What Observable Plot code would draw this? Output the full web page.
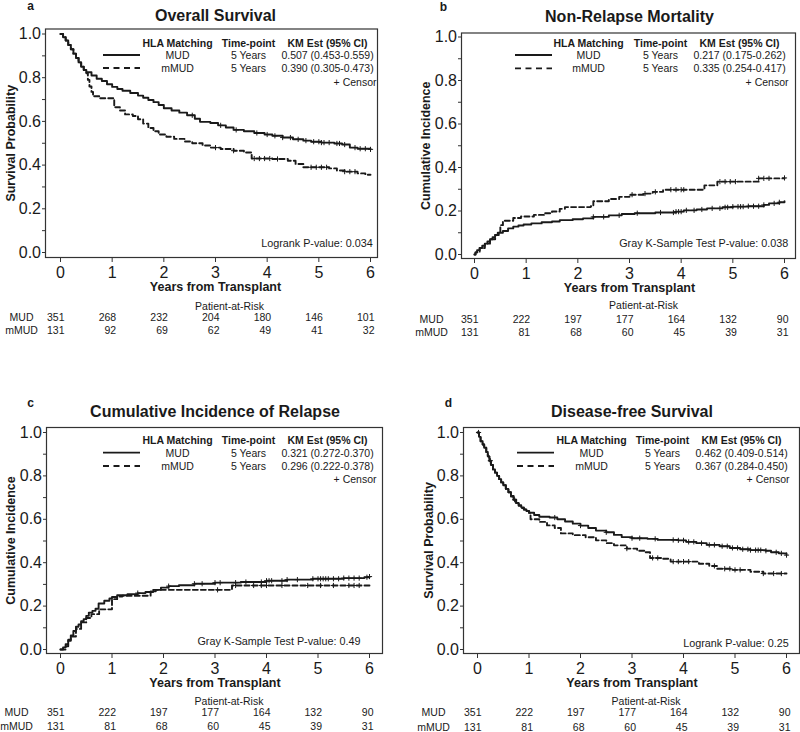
<!DOCTYPE html>
<html>
<head>
<meta charset="utf-8">
<script src="https://cdn.jsdelivr.net/npm/d3@7"></script>
<script src="https://cdn.jsdelivr.net/npm/@observablehq/plot@0.6"></script>
<style>
html, body { margin: 0; padding: 0; background: #fff; }
#chart { position: relative; width: 800px; height: 732px; overflow: hidden; background: #fff; }
#chart svg { position: absolute; }
</style>
</head>
<body>
<div id="chart"></div>
<script>
// ---------- axes ----------
const xDomain = [0, 6];
const yDomain = [0, 1];
const xTicks = [0, 1, 2, 3, 4, 5, 6];
const yMajorTicks = [0, 0.2, 0.4, 0.6, 0.8, 1.0];
const yMinorTicks = [0.1, 0.3, 0.5, 0.7, 0.9];
const riskTimes = [0, 1, 2, 3, 4, 5, 6];
const groups = ["MUD", "mMUD"];
const legendHeaders = ["HLA Matching", "Time-point", "KM Est (95% CI)"];
const timePoint = "5 Years";

// ---------- a: Overall Survival ----------
const osMUD = [[0,1.0],[0.05,0.985],[0.1,0.97],[0.15,0.95],[0.2,0.93],[0.25,0.91],[0.3,0.89],[0.35,0.87],[0.4,0.85],[0.45,0.835],[0.5,0.825],[0.6,0.81],[0.7,0.795],[0.8,0.785],[0.9,0.77],[1.0,0.758],[1.1,0.748],[1.2,0.74],[1.35,0.73],[1.5,0.718],[1.6,0.708],[1.7,0.698],[1.8,0.688],[1.9,0.675],[2.0,0.66],[2.15,0.65],[2.3,0.64],[2.45,0.628],[2.6,0.612],[2.7,0.598],[2.9,0.593],[3.05,0.582],[3.2,0.572],[3.35,0.561],[3.55,0.555],[3.75,0.547],[3.95,0.54],[4.1,0.534],[4.3,0.526],[4.5,0.518],[4.7,0.512],[4.85,0.507],[5.05,0.503],[5.3,0.499],[5.45,0.494],[5.6,0.48],[5.75,0.475],[6.0,0.472]];
const osmMUD = [[0,1.0],[0.05,0.985],[0.1,0.97],[0.15,0.95],[0.2,0.93],[0.25,0.91],[0.3,0.89],[0.35,0.87],[0.4,0.85],[0.45,0.835],[0.5,0.82],[0.53,0.79],[0.56,0.76],[0.6,0.735],[0.63,0.715],[0.75,0.706],[1.04,0.665],[1.15,0.65],[1.25,0.632],[1.4,0.625],[1.5,0.61],[1.6,0.59],[1.7,0.57],[1.8,0.555],[1.9,0.54],[2.05,0.53],[2.2,0.52],[2.4,0.508],[2.55,0.5],[2.75,0.49],[2.9,0.48],[3.1,0.474],[3.35,0.466],[3.55,0.458],[3.7,0.43],[4.1,0.428],[4.4,0.42],[4.55,0.405],[4.7,0.39],[5.2,0.385],[5.35,0.375],[5.5,0.37],[5.75,0.362],[5.9,0.356],[6.0,0.356]];
const osCensorMUD = [2.55,3.1,3.4,3.8,4.0,4.15,4.3,4.45,4.6,4.75,4.9,5.0,5.05,5.1,5.2,5.35,5.4,5.5,5.7,5.8,5.9,6.0];
const osCensormMUD = [3.0,3.35,3.75,3.85,3.95,4.05,4.2,4.85,4.95,5.05,5.15,5.5,5.6,5.7];
const osRiskMUD = [351,268,232,204,180,146,101];
const osRiskmMUD = [131,92,69,62,49,41,32];
const osEst = ["0.507 (0.453-0.559)", "0.390 (0.305-0.473)"];

// ---------- b: Non-Relapse Mortality ----------
const nrmMUD = [[0,0],[0.02,0.01],[0.05,0.02],[0.1,0.03],[0.15,0.04],[0.2,0.05],[0.25,0.06],[0.3,0.07],[0.35,0.08],[0.4,0.09],[0.45,0.1],[0.55,0.108],[0.65,0.12],[0.75,0.128],[0.85,0.133],[0.95,0.138],[1.1,0.143],[1.3,0.148],[1.5,0.152],[1.65,0.158],[1.9,0.162],[2.1,0.166],[2.3,0.173],[2.6,0.18],[2.85,0.186],[3.1,0.19],[3.5,0.193],[3.9,0.197],[4.05,0.203],[4.3,0.207],[4.5,0.212],[4.8,0.217],[5.0,0.22],[5.3,0.222],[5.6,0.228],[5.7,0.235],[5.9,0.24],[6.0,0.245]];
const nrmmMUD = [[0,0],[0.02,0.01],[0.1,0.03],[0.2,0.05],[0.3,0.07],[0.4,0.09],[0.47,0.103],[0.5,0.135],[0.55,0.155],[0.75,0.168],[0.9,0.175],[1.15,0.182],[1.35,0.19],[1.5,0.198],[1.65,0.21],[1.75,0.218],[2.25,0.222],[2.3,0.245],[2.6,0.255],[2.8,0.265],[3.0,0.275],[3.3,0.28],[3.45,0.288],[3.65,0.298],[4.45,0.318],[4.7,0.335],[5.5,0.35],[6.0,0.352]];
const nrmCensorMUD = [2.3,2.5,2.8,3.15,3.6,3.85,3.9,3.95,4.0,4.1,4.25,4.4,4.6,4.75,4.85,4.9,5.0,5.1,5.15,5.2,5.3,5.4,5.5,5.6,5.8,5.9];
const nrmCensormMUD = [3.05,3.3,3.5,3.8,3.9,4.0,4.05,4.75,4.85,4.95,5.05,5.5,5.6,5.7,6.0];
const nrmRiskMUD = [351,222,197,177,164,132,90];
const nrmRiskmMUD = [131,81,68,60,45,39,31];
const nrmEst = ["0.217 (0.175-0.262)", "0.335 (0.254-0.417)"];

// ---------- c: Cumulative Incidence of Relapse ----------
const cirMUD = [[0,0],[0.05,0.01],[0.1,0.025],[0.15,0.045],[0.2,0.065],[0.25,0.085],[0.3,0.105],[0.35,0.115],[0.4,0.13],[0.45,0.14],[0.5,0.155],[0.55,0.17],[0.62,0.178],[0.68,0.188],[0.74,0.212],[0.85,0.225],[0.95,0.235],[1.0,0.242],[1.1,0.25],[1.3,0.255],[1.5,0.26],[1.65,0.265],[1.8,0.275],[1.95,0.285],[2.1,0.292],[2.3,0.296],[2.6,0.303],[3.0,0.308],[3.5,0.311],[4.0,0.317],[4.4,0.322],[4.9,0.326],[5.5,0.329],[5.9,0.333],[6.0,0.336]];
const cirmMUD = [[0,0],[0.1,0.015],[0.15,0.04],[0.2,0.06],[0.3,0.095],[0.4,0.125],[0.5,0.145],[0.6,0.163],[0.75,0.185],[1.0,0.232],[1.1,0.244],[1.2,0.248],[1.75,0.268],[1.85,0.275],[3.33,0.295],[6.0,0.298]];
const cirCensorMUD = [1.5,2.1,2.6,2.75,3.0,3.1,3.4,3.6,3.9,4.0,4.05,4.1,4.3,4.4,4.6,4.9,5.0,5.05,5.1,5.15,5.2,5.3,5.4,5.5,5.6,5.7,5.8,5.95,6.0];
const cirCensormMUD = [3.05,3.4,3.75,3.9,4.0,4.3,4.8,5.05,5.3,5.6,5.7,5.8];
const cirRiskMUD = [351,222,197,177,164,132,90];
const cirRiskmMUD = [131,81,68,60,45,39,31];
const cirEst = ["0.321 (0.272-0.370)", "0.296 (0.222-0.378)"];

// ---------- d: Disease-free Survival ----------
const dfsMUD = [[0,1],[0.03,0.98],[0.06,0.96],[0.1,0.945],[0.13,0.93],[0.17,0.91],[0.2,0.89],[0.23,0.87],[0.26,0.85],[0.3,0.83],[0.34,0.815],[0.38,0.8],[0.42,0.785],[0.46,0.77],[0.5,0.757],[0.55,0.74],[0.6,0.725],[0.65,0.708],[0.7,0.69],[0.75,0.675],[0.8,0.665],[0.85,0.655],[0.9,0.645],[0.95,0.638],[1.0,0.63],[1.1,0.62],[1.2,0.612],[1.4,0.608],[1.55,0.6],[1.7,0.59],[1.85,0.58],[2.0,0.571],[2.15,0.56],[2.3,0.548],[2.5,0.54],[2.65,0.528],[2.8,0.518],[3.0,0.513],[3.3,0.51],[3.5,0.505],[3.9,0.503],[4.05,0.496],[4.25,0.49],[4.45,0.482],[4.7,0.476],[4.9,0.468],[5.1,0.462],[5.3,0.458],[5.6,0.455],[5.7,0.448],[5.85,0.443],[6.0,0.435]];
const dfsmMUD = [[0,1],[0.03,0.98],[0.06,0.96],[0.1,0.945],[0.13,0.93],[0.17,0.91],[0.2,0.89],[0.23,0.87],[0.26,0.85],[0.3,0.83],[0.34,0.815],[0.38,0.8],[0.42,0.785],[0.46,0.77],[0.5,0.757],[0.55,0.74],[0.6,0.725],[0.65,0.705],[0.7,0.69],[0.75,0.672],[0.8,0.662],[0.85,0.652],[0.9,0.645],[0.95,0.638],[1.0,0.63],[1.03,0.6],[1.2,0.588],[1.35,0.572],[1.5,0.56],[1.62,0.535],[1.85,0.527],[2.1,0.517],[2.3,0.503],[2.5,0.49],[2.65,0.48],[2.9,0.465],[3.1,0.455],[3.25,0.448],[3.35,0.422],[3.6,0.418],[3.75,0.405],[4.3,0.395],[4.5,0.385],[4.65,0.372],[4.95,0.367],[5.3,0.358],[5.55,0.35],[6.0,0.35]];
const dfsCensorMUD = [0.02,0.25,0.72,1.5,2.0,2.5,3.0,3.15,3.45,3.8,3.9,4.0,4.1,4.2,4.35,4.5,4.6,4.75,4.85,4.95,5.05,5.15,5.25,5.3,5.4,5.45,5.5,5.6,5.8,5.9,6.0];
const dfsCensormMUD = [2.9,3.4,3.5,3.8,3.9,4.0,4.1,4.6,4.8,4.9,5.0,5.1,5.55,5.75,5.9];
const dfsRiskMUD = [351,222,197,177,164,132,90];
const dfsRiskmMUD = [131,81,68,60,45,39,31];
const dfsEst = ["0.462 (0.409-0.514)", "0.367 (0.284-0.450)"];

// ---------- rendering ----------
const FONT = "'Liberation Sans', Arial, Helvetica, sans-serif";
const INK = "#1a1a1a";

function stepAt(series, t) {
  let v = series[0][1];
  for (const [x, y] of series) { if (x <= t + 1e-9) v = y; else break; }
  return v;
}

function panel(cfg) {
  const m = cfg.margin;          // [top, right, bottom, left]
  const ins = cfg.inset;         // [top, right, bottom, left]
  const L = cfg.legend;
  const mid = (xDomain[0] + xDomain[1]) / 2;
  const censor = [
    ...cfg.cenMud.map(t => ({t, v: stepAt(cfg.mud, t)})),
    ...cfg.cenMmud.map(t => ({t, v: stepAt(cfg.mmud, t)}))
  ];
  const txt = {fill: INK, lineAnchor: "middle"};
  const legendLines = () => {
    const g = d3.create("svg:g");
    const xr = cfg.width - m[1], yt = m[0];
    g.append("line").attr("x1", xr + L.line[0]).attr("x2", xr + L.line[1])
      .attr("y1", yt + L.rows[0]).attr("y2", yt + L.rows[0])
      .attr("stroke", INK).attr("stroke-width", 1.8);
    g.append("line").attr("x1", xr + L.line[0]).attr("x2", xr + L.line[1])
      .attr("y1", yt + L.rows[1]).attr("y2", yt + L.rows[1])
      .attr("stroke", INK).attr("stroke-width", 1.8).attr("stroke-dasharray", "6,4.5");
    return g.node();
  };
  const svg = Plot.plot({
    width: cfg.width, height: cfg.height,
    marginTop: m[0], marginRight: m[1], marginBottom: m[2], marginLeft: m[3],
    style: {fontFamily: FONT, fontSize: "16px", color: INK, background: "transparent", overflow: "visible"},
    x: {domain: xDomain, insetLeft: ins[3], insetRight: ins[1]},
    y: {domain: yDomain, insetTop: ins[0], insetBottom: ins[2]},
    marks: [
      Plot.frame({stroke: "#333", strokeWidth: 1.2}),
      Plot.axisX({ticks: xTicks, tickSize: 5, tickPadding: 4, fontSize: 16, label: null, tickFormat: d => String(d), stroke: "#333"}),
      Plot.axisY({ticks: yMinorTicks, tickSize: 3, tickFormat: () => "", label: null, stroke: "#333"}),
      Plot.axisY({ticks: yMajorTicks, tickSize: 3, tickPadding: 1.5, fontSize: 16, tickFormat: d3.format(".1f"), label: null, stroke: "#333"}),
      Plot.line(cfg.mud, {x: d => d[0], y: d => d[1], curve: "step-after", stroke: INK, strokeWidth: 1.9}),
      Plot.line(cfg.mmud, {x: d => d[0], y: d => d[1], curve: "step-after", stroke: INK, strokeWidth: 1.9, strokeDasharray: "5,3"}),
      Plot.dot(censor, {x: "t", y: "v", symbol: "plus", r: 1.8, stroke: INK, strokeWidth: 1}),
      // title, letter, axis labels
      Plot.text([{x: mid, s: cfg.title}], {x: "x", text: "s", frameAnchor: "top", dy: cfg.titleDy, fontWeight: "bold", fontSize: 16, ...txt}),
      Plot.text([cfg.letter], {text: d => d, frameAnchor: "top-left", dx: cfg.letterDx, dy: cfg.letterDy, fontWeight: "bold", fontSize: 12, textAnchor: "middle", fill: INK, lineAnchor: "bottom"}),
      Plot.text([cfg.yLabel], {text: d => d, frameAnchor: "left", rotate: -90, dx: cfg.yLabelDx, textAnchor: "middle", fontWeight: "bold", fontSize: 12.5, ...txt}),
      Plot.text([{x: mid, s: "Years from Transplant"}], {x: "x", text: "s", frameAnchor: "bottom", dy: 29, fontWeight: "bold", fontSize: 12.5, ...txt}),
      // legend
      Plot.text([legendHeaders[0]], {text: d => d, frameAnchor: "top-right", dx: L.cols[0], dy: L.header, textAnchor: "middle", fontWeight: "bold", fontSize: 10.5, ...txt}),
      Plot.text([legendHeaders[1]], {text: d => d, frameAnchor: "top-right", dx: L.cols[1], dy: L.header, textAnchor: "middle", fontWeight: "bold", fontSize: 10.5, ...txt}),
      Plot.text([legendHeaders[2]], {text: d => d, frameAnchor: "top-right", dx: L.cols[2], dy: L.header, textAnchor: "middle", fontWeight: "bold", fontSize: 10.5, ...txt}),
      ...[0, 1].flatMap(i => [
        Plot.text([groups[i]], {text: d => d, frameAnchor: "top-right", dx: L.cols[0], dy: L.rows[i], textAnchor: "middle", fontSize: 10.5, ...txt}),
        Plot.text([timePoint], {text: d => d, frameAnchor: "top-right", dx: L.cols[1], dy: L.rows[i], textAnchor: "middle", fontSize: 10.5, ...txt}),
        Plot.text([cfg.est[i]], {text: d => d, frameAnchor: "top-right", dx: L.cols[2], dy: L.rows[i], textAnchor: "middle", fontSize: 10.5, ...txt})
      ]),
      Plot.text(["+ Censor"], {text: d => d, frameAnchor: "top-right", dx: L.censorDx, dy: L.censorDy, textAnchor: "end", fontSize: 10.5, ...txt}),
      legendLines,
      // p-value
      Plot.text([cfg.pText], {text: d => d, frameAnchor: "bottom-right", dx: cfg.pDx, dy: cfg.pDy, textAnchor: "end", fontSize: 10.8, ...txt}),
      // patients at risk
      Plot.text([{x: mid, s: "Patient-at-Risk"}], {x: "x", text: "s", frameAnchor: "bottom", dx: 14, dy: cfg.riskDy[0], fontSize: 10.5, ...txt}),
      Plot.text(riskTimes.map((t, i) => ({t, n: cfg.riskMud[i]})), {x: "t", text: "n", frameAnchor: "bottom", dx: 4, dy: cfg.riskDy[1], textAnchor: "end", fontSize: 10.5, ...txt}),
      Plot.text(riskTimes.map((t, i) => ({t, n: cfg.riskMmud[i]})), {x: "t", text: "n", frameAnchor: "bottom", dx: 4, dy: cfg.riskDy[2], textAnchor: "end", fontSize: 10.5, ...txt}),
      Plot.text([groups[0]], {text: d => d, frameAnchor: "bottom-left", dx: cfg.rowDx, dy: cfg.riskDy[1], textAnchor: "middle", fontSize: 10.5, ...txt}),
      Plot.text([groups[1]], {text: d => d, frameAnchor: "bottom-left", dx: cfg.rowDx, dy: cfg.riskDy[2], textAnchor: "middle", fontSize: 10.5, ...txt})
    ]
  });
  svg.style.left = cfg.left + "px";
  svg.style.top = cfg.top + "px";
  document.getElementById("chart").appendChild(svg);
}

panel({
  left: 0, top: 0, width: 400, height: 340,
  margin: [28.5, 23, 83, 45], inset: [5, 7, 5, 15],
  letter: "a", letterDx: -15, letterDy: -19,
  title: "Overall Survival", titleDy: -13.5,
  yLabel: "Survival Probability", yLabelDx: -35,
  mud: osMUD, mmud: osmMUD, cenMud: osCensorMUD, cenMmud: osCensormMUD,
  est: osEst, pText: "Logrank P-value: 0.034", pDx: -4.7, pDy: -13.7,
  legend: {header: 14.5, rows: [26.5, 39.5], cols: [-200, -129, -50], line: [-274, -237], censorDx: -1, censorDy: 53.5},
  riskMud: osRiskMUD, riskMmud: osRiskmMUD, riskDy: [48.7, 60, 73.3], rowDx: -24
});

panel({
  left: 400, top: 0, width: 400, height: 340,
  margin: [32.5, 5, 82, 61], inset: [4, 11, 4, 13],
  letter: "b", letterDx: -18, letterDy: -22.5,
  title: "Non-Relapse Mortality", titleDy: -16.5,
  yLabel: "Cumulative Incidence", yLabelDx: -36,
  mud: nrmMUD, mmud: nrmmMUD, cenMud: nrmCensorMUD, cenMmud: nrmCensormMUD,
  est: nrmEst, pText: "Gray K-Sample Test P-value: 0.038", pDx: -7.3, pDy: -14.7,
  legend: {header: 10.2, rows: [22.5, 35.8], cols: [-207, -135, -56], line: [-280, -243], censorDx: -7, censorDy: 49.2},
  riskMud: nrmRiskMUD, riskMmud: nrmRiskmMUD, riskDy: [47.5, 61, 73.7], rowDx: -30
});

panel({
  left: 0, top: 370, width: 400, height: 362,
  margin: [57, 18, 79, 46], inset: [5, 13, 4, 14],
  letter: "c", letterDx: -16, letterDy: -21,
  title: "Cumulative Incidence of Relapse", titleDy: -15.3,
  yLabel: "Cumulative Incidence", yLabelDx: -36,
  mud: cirMUD, mmud: cirmMUD, cenMud: cirCensorMUD, cenMmud: cirCensormMUD,
  est: cirEst, pText: "Gray K-Sample Test P-value: 0.49", pDx: -22, pDy: -12.3,
  legend: {header: 13, rows: [25.7, 39], cols: [-205, -134, -55], line: [-279, -242], censorDx: -6, censorDy: 52},
  riskMud: cirRiskMUD, riskMmud: cirRiskmMUD, riskDy: [47.8, 59.5, 73], rowDx: -30
});

panel({
  left: 400, top: 370, width: 400, height: 362,
  margin: [57, 1, 79, 63], inset: [5, 13, 4, 14],
  letter: "d", letterDx: -15, letterDy: -21,
  title: "Disease-free Survival", titleDy: -15.3,
  yLabel: "Survival Probability", yLabelDx: -35,
  mud: dfsMUD, mmud: dfsmMUD, cenMud: dfsCensorMUD, cenMmud: dfsCensormMUD,
  est: dfsEst, pText: "Logrank P-value: 0.25", pDx: -10.7, pDy: -10.3,
  legend: {header: 13, rows: [25.7, 39], cols: [-208, -137, -58], line: [-282, -245], censorDx: -10, censorDy: 52},
  riskMud: dfsRiskMUD, riskMmud: dfsRiskmMUD, riskDy: [48, 59.5, 73.7], rowDx: -30
});
</script>
</body>
</html>
